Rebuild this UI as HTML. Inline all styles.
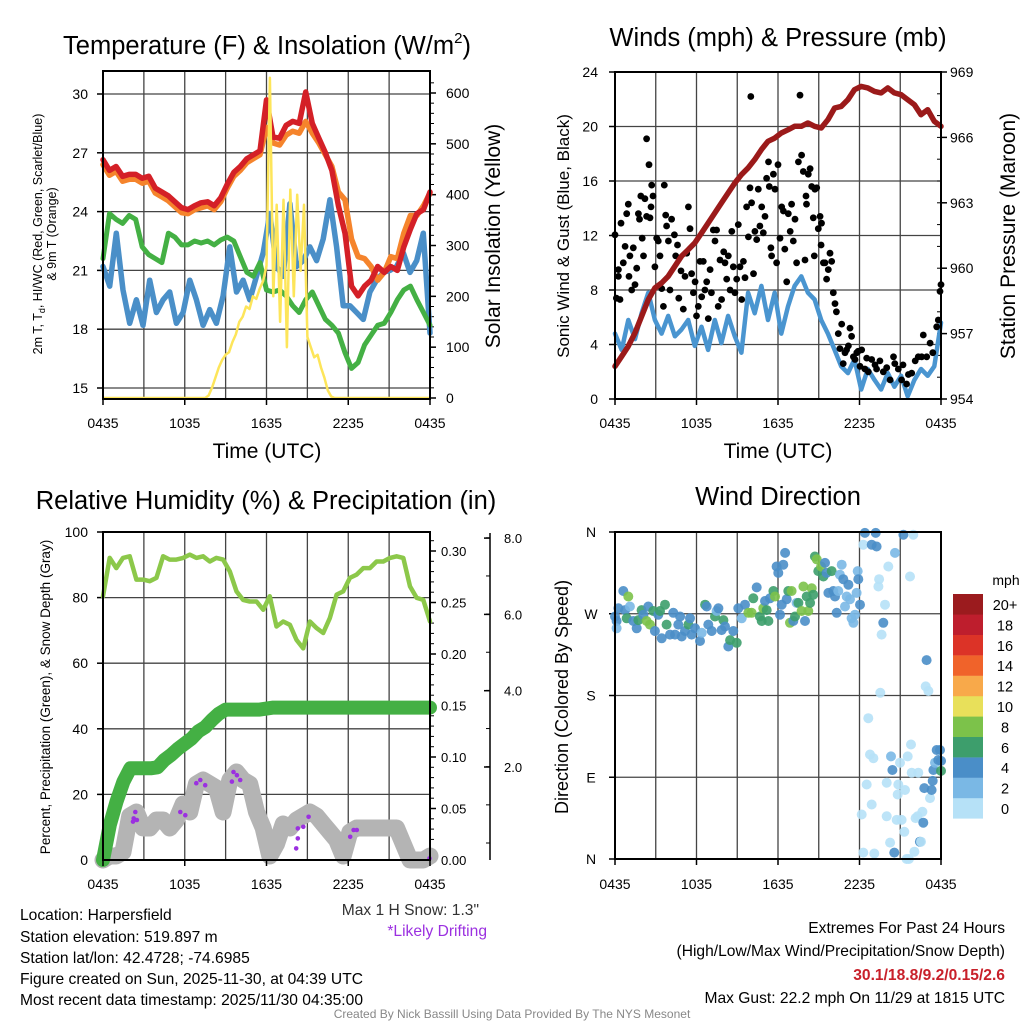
<!DOCTYPE html>
<html><head><meta charset="utf-8"><style>
html,body{margin:0;padding:0;background:#fff;}
svg{display:block;font-family:"Liberation Sans",Arial,sans-serif;}
</style></head><body>
<svg id="c" width="1024" height="1024" viewBox="0 0 1024 1024">
<rect width="1024" height="1024" fill="#fff"/>
<g id="p1"></g>
<g id="p2"></g>
<g id="p3"></g>
<g id="p4"></g>
<g font-size="25.5" text-anchor="middle" fill="#000">
<text x="267" y="54">Temperature (F) &amp; Insolation (W/m<tspan font-size="15" dy="-11">2</tspan><tspan dy="11">)</tspan></text>
<text x="778" y="46">Winds (mph) &amp; Pressure (mb)</text>
<text x="266" y="509">Relative Humidity (%) &amp; Precipitation (in)</text>
<text x="778" y="505">Wind Direction</text>
</g>
<g font-size="21" text-anchor="middle">
<text x="267" y="458">Time (UTC)</text>
<text x="778" y="458">Time (UTC)</text>
<text transform="translate(500,236) rotate(-90)">Solar Insolation (Yellow)</text>
<text transform="translate(1015,236) rotate(-90)">Station Pressure (Maroon)</text>
</g>
<text transform="translate(569,236) rotate(-90)" font-size="17" text-anchor="middle">Sonic Wind &amp; Gust (Blue, Black)</text>
<text transform="translate(568,697) rotate(-90)" font-size="18" text-anchor="middle">Direction (Colored By Speed)</text>
<text transform="translate(50,697) rotate(-90)" font-size="13.5" text-anchor="middle">Percent, Precipitation (Green), &amp; Snow Depth (Gray)</text>
<g font-size="12.5" text-anchor="middle">
<text transform="translate(42,234) rotate(-90)">2m T, T<tspan font-size="9" dy="3">d</tspan><tspan dy="-3">, HI/WC (Red, Green, Scarlet/Blue)</tspan></text>
<text transform="translate(56,234) rotate(-90)">&amp; 9m T (Orange)</text>
</g>
<g font-size="15.6" fill="#000">
<text x="20" y="920">Location: Harpersfield</text>
<text x="20" y="942">Station elevation: 519.897 m</text>
<text x="20" y="963">Station lat/lon: 42.4728; -74.6985</text>
<text x="20" y="984">Figure created on Sun, 2025-11-30, at 04:39 UTC</text>
<text x="20" y="1005">Most recent data timestamp: 2025/11/30 04:35:00</text>
<text x="479" y="915" text-anchor="end" fill="#333">Max 1 H Snow: 1.3"</text>
<text x="487" y="936" text-anchor="end" fill="#9b30e0">*Likely Drifting</text>
<text x="1005" y="933" text-anchor="end">Extremes For Past 24 Hours</text>
<text x="1005" y="956" text-anchor="end">(High/Low/Max Wind/Precipitation/Snow Depth)</text>
<text x="1005" y="980" text-anchor="end" fill="#c8202a" font-weight="bold">30.1/18.8/9.2/0.15/2.6</text>
<text x="1005" y="1003" text-anchor="end">Max Gust: 22.2 mph On 11/29 at 1815 UTC</text>
</g>
<text x="512" y="1018" font-size="12" fill="#888" text-anchor="middle">Created By Nick Bassill Using Data Provided By The NYS Mesonet</text>
</svg>
<script>
const tempRed=[26.65,26.1,26.3,25.8,25.9,25.9,25.7,25.8,25.2,25.0,24.8,24.5,24.2,24.1,24.3,24.45,24.5,24.3,24.7,25.4,26.0,26.3,26.7,26.9,27.1,29.7,27.8,27.75,28.4,28.6,28.5,30.1,28.5,27.75,27.0,26.1,24.3,22.9,20.2,19.7,20.2,20.5,21.2,20.9,21.2,21.0,22.2,23.1,23.9,24.1,25.0];
const temp9m=[26.4,25.85,26.05,25.55,25.65,25.65,25.45,25.55,24.95,24.75,24.55,24.25,23.95,23.9,24.1,24.2,24.3,24.1,24.5,25.2,25.8,26.1,26.5,26.7,26.9,28.3,27.5,27.4,27.9,28.1,28.0,28.6,28.0,27.5,26.9,26.3,25.0,24.6,22.6,21.7,21.6,21.2,20.5,20.9,21.7,21.6,22.9,23.8,23.8,24.3,24.95];
const dewPoint=[21.6,23.9,23.6,23.4,23.8,23.6,22.2,21.8,21.6,21.4,22.9,22.7,22.3,22.3,22.5,22.4,22.5,22.3,22.55,22.7,22.5,21.7,20.9,20.7,21.4,20.0,19.9,20.0,19.7,19.2,18.85,19.5,19.9,19.2,18.5,18.2,17.8,16.8,16.0,16.3,17.2,17.7,18.2,18.3,18.85,19.5,20.0,20.2,19.5,18.85,18.2];
const windChill=[21.2,20.2,22.9,20.0,18.3,19.5,18.2,20.5,18.85,19.5,19.9,18.3,18.85,20.5,19.5,18.2,19.0,18.3,19.7,22.2,19.9,20.5,19.5,20.7,21.9,23.9,21.2,20.7,24.4,21.2,21.5,22.2,21.5,22.6,24.6,22.2,19.2,19.2,18.85,18.5,19.9,20.5,20.9,21.0,21.2,21.9,20.9,21.5,22.9,17.8];
const solar=[0,0,0,0,0,0,0,0,0,0,0,0,0,0,0,0,0,0,0,0,0,0,0,0,0,0,0,0,0,0,0,5,20,40,60,75,85,90,110,125,150,160,180,175,200,195,215,230,260,630,200,380,150,390,100,410,200,400,250,380,120,100,80,85,60,40,15,3,0,0,0,0,0,0,0,0,0,0,0,0,0,0,0,0,0,0,0,0,0,0,0,0,0,0,0,0,0];
const tempTicks=[15,18,21,24,27,30];
const solarTicks=[0,100,200,300,400,500,600];
const timeLabels=["0435","1035","1635","2235","0435"];

const pressure=[955.5,955.96,956.42,957.03,957.79,958.56,959.09,959.32,959.63,960.09,960.55,960.85,961.16,961.61,962.07,962.53,962.99,963.45,963.91,964.29,964.6,964.98,965.44,965.82,965.97,966.2,966.35,966.51,966.51,966.66,966.51,966.43,966.81,967.35,967.42,967.73,968.19,968.34,968.27,968.11,968.04,968.27,968.04,967.96,967.73,967.5,967.04,967.27,966.74,966.51];
const sonicWind=[4.8,3.6,5.8,4.4,6.3,7.8,5.8,4.8,6.1,4.6,5.1,5.8,3.9,5.3,3.6,5.8,4.1,6.1,4.6,3.4,7.8,6.3,8.3,5.8,7.8,4.8,6.8,8.3,9.0,7.8,7.3,5.8,4.8,3.6,2.4,1.9,2.9,0.7,2.2,1.4,0.7,1.9,0.9,1.7,0.2,1.4,2.2,1.7,2.4,5.6];
const gustHour=[0,0.1,0.25,0.37,0.25,0.44,0.61,0.74,0.86,0.98,1.03,1.1,1.23,1.35,1.47,1.6,1.72,1.8,1.9,2.0,2.1,2.2,2.33,2.33,2.5,2.58,2.65,2.7,2.8,2.94,3.07,3.19,3.31,3.44,3.56,3.63,3.73,3.8,3.93,4.05,4.17,4.37,4.47,4.6,4.7,4.86,5.03,5.15,5.28,5.4,5.52,5.64,5.77,5.9,6.0,6.13,6.26,6.38,6.5,6.62,6.75,6.87,7.0,7.1,7.24,7.36,7.48,7.6,7.73,7.85,8.0,8.1,8.22,8.34,8.47,8.6,8.71,8.83,8.96,9.08,9.2,9.33,9.45,9.57,9.69,9.82,9.94,10.0,10.06,10.2,10.3,10.43,10.55,10.67,10.8,10.92,11.04,11.16,11.3,11.36,11.48,11.53,11.66,11.78,11.9,12.0,12.15,12.27,12.4,12.5,12.64,12.76,12.9,13.0,13.13,13.25,13.37,13.5,13.62,13.74,13.86,13.99,14.06,14.1,14.23,14.36,14.48,14.6,14.67,14.72,14.85,14.97,15.1,15.17,15.2,15.34,15.46,15.58,15.7,15.83,15.95,16.07,16.2,16.3,16.44,16.56,16.69,16.8,16.93,17.05,17.18,17.3,17.42,17.55,17.67,17.8,17.9,18.04,18.16,18.4,18.53,18.65,18.9,19.14,19.26,19.5,19.75,20.0,20.25,20.5,20.6,20.86,21.1,21.2,21.47,21.6,21.84,22.1,22.33,22.58,22.7,22.95,23.2,23.4,23.68,23.8,23.93,24.0];
const gustVal=[12.05,7.4,9.0,7.3,9.5,12.9,10,11.2,13.6,14.3,9.0,10.5,8.0,11.1,8.4,9.6,13.6,13.2,14.9,11.8,10.5,14.7,13.4,19.1,17.2,13.3,14.1,15.7,14.9,9.7,11.8,11.6,10.5,8.1,6.8,15.7,13.5,12.7,11.6,8.0,13.2,12.05,10.5,11.3,7.4,9.4,6.6,9.0,10.7,14.1,12.5,9.2,7.8,8.6,6.1,6.8,10.1,7.5,10.1,8.0,8.6,5.9,9.5,7.8,12.4,11.6,12.4,6.8,10.2,7.3,10.8,10.0,8.8,10.5,8.0,12.3,9.7,7.8,8.8,12.8,9.7,7.3,10.1,8.9,14.1,11.9,15.5,22.2,14.4,9.2,12.3,11.7,15.4,12.7,14.1,12.2,13.4,16.2,17.4,15.6,11.1,10.5,16.5,15.4,10.0,17.2,11.8,14.1,13.8,11.0,8.6,13.6,12.3,14.3,11.6,13.2,10.0,17.4,22.3,17.9,16.7,10.2,14.9,14.3,16.5,16.9,15.6,13.3,10.5,15.4,15.5,12.5,13.4,11.3,12.9,10.0,10.0,8.8,9.5,10.7,10.1,7.8,7.0,6.4,4.8,3.7,5.5,2.6,3.4,3.6,3.9,5.2,4.6,3.1,2.9,3.4,3.5,2.4,3.6,2.2,3.0,2.0,2.9,2.5,2.2,2.8,2.0,2.3,1.4,3.1,2.6,2.2,1.4,2.5,1.1,1.8,1.9,2.8,3.1,3.1,4.7,3.1,4.1,3.4,5.3,5.8,7.9,8.4];
const windTicks=[0,4,8,12,16,20,24];
const pressureTicks=[954,957,960,963,966,969];

const relHum=[80.4,92.1,89,92.1,92.6,85.5,85.5,85,86,92.6,91.6,91.6,92.1,93.1,92.1,92.6,91,92.1,91.6,88,81.9,79.3,78.8,78.8,76.3,80.4,71.2,72.7,71.7,67.1,64.5,72.7,70.7,69.2,73.8,80.9,81.9,86,87,89,89,91,91,92.1,92.6,92.1,83.4,79.9,79.3,72.7];
const precip=[0,0.034,0.057,0.076,0.089,0.089,0.089,0.089,0.09,0.097,0.102,0.108,0.113,0.118,0.125,0.129,0.136,0.142,0.146,0.146,0.146,0.146,0.146,0.146,0.147,0.148,0.148,0.148,0.148,0.148,0.148,0.148,0.148,0.148,0.148,0.148,0.148,0.148,0.148,0.148,0.148,0.148,0.148,0.148,0.148,0.148,0.148,0.148,0.148];
const snowDepth=[0,0.1,0.1,0.2,1.1,1.2,0.8,0.8,1.0,1.0,0.8,1.0,1.4,1.2,1.9,2.0,1.9,1.8,1.2,2.0,2.2,2.0,1.9,1.2,0.8,0.1,0.4,0.9,0.8,1.0,1.1,1.2,1.1,0.9,0.7,0.5,0.1,0.7,0.8,0.8,0.8,0.8,0.8,0.8,0.8,0.4,0,0,0,0.1];
const driftHour=[2.25,2.2,2.49,2.37,5.67,6.04,6.85,7.5,7.14,9.58,9.46,10.07,9.83,14.3,14.3,14.18,14.7,15.09,18.14,18.63,18.39,23.96];
const driftVal=[1.04,0.96,1.0,1.2,1.2,1.12,1.92,1.87,2.0,2.2,1.96,2.0,2.12,0.79,0.54,0.29,0.83,1.08,0.58,0.75,0.75,0.04];
const rhTicks=[0,20,40,60,80,100];
const precipTicks=[0,0.05,0.10,0.15,0.20,0.25,0.30];
const snowTickLabels=["2.0","4.0","6.0","8.0"];

const dirHour=[0,0.12,0.12,0.25,0.61,0.98,0.74,0.86,1.1,1.35,1.6,1.72,1.96,2.09,2.33,2.45,2.58,2.82,2.94,3.19,3.31,3.44,3.68,3.8,4.05,4.29,4.42,4.66,4.79,4.91,5.15,5.4,5.52,5.64,5.89,6.26,6.38,6.63,6.75,6.87,7.12,7.36,7.48,7.61,7.85,7.98,8.1,8.34,8.47,8.71,8.96,9.08,9.33,9.57,9.82,10.06,10.18,10.43,10.67,10.8,10.92,11.04,11.17,11.29,11.41,11.66,11.78,11.9,12.02,12.15,12.27,12.39,12.52,12.64,12.76,12.88,13.0,13.13,13.25,13.37,13.5,13.74,13.87,13.99,14.11,14.23,14.36,14.48,14.6,14.72,14.85,14.97,15.17,15.34,15.46,15.58,15.71,15.95,16.07,16.2,16.32,16.44,16.56,16.69,16.81,16.93,17.06,17.18,17.3,17.42,17.55,17.67,17.79,17.87,17.91,18.04,18.16,18.28,18.4,18.28,18.53,18.65,18.77,18.9,18.9,19.02,19.09,19.19,19.26,19.39,19.44,19.53,19.63,19.75,19.88,20.0,20.0,20.12,20.25,20.32,20.42,20.56,20.61,20.74,20.86,20.81,20.98,21.1,21.23,21.3,21.35,21.47,21.55,21.64,21.72,21.79,21.84,21.96,22.04,22.13,22.28,22.33,22.45,22.53,22.63,22.7,22.77,22.94,22.87,23.07,23.19,23.31,23.39,23.44,23.56,23.68,23.8,23.93,24.0,24.0];
const dirDeg=[267,262,254,276,295,289,274,265,278,262,254,263,274,269,262,278,258,273,251,269,273,243,280,258,247,271,247,258,267,245,251,258,265,247,254,240,249,280,278,258,251,267,273,276,252,263,256,234,241,251,238,276,265,280,271,271,287,299,267,262,276,284,274,262,287,295,289,322,315,269,280,324,337,286,295,260,295,262,267,282,282,273,300,262,289,273,282,298,291,333,330,317,322,311,326,315,293,317,295,289,271,295,313,324,308,278,289,302,286,265,260,269,293,317,308,280,49,7,359,346,82,155,115,346,60,111,6,359,344,300,308,183,247,260,280,47,84,322,18,113,98,7,337,43,82,71,106,43,357,30,76,0,113,0,311,126,95,357,8,45,47,95,19,19,52,40,78,219,190,185,67,76,86,98,106,120,109,120,108,97];
const dirSpeed=[4,4,2,4,4,8,4,6,2,4,4,6,6,4,8,4,8,6,4,4,6,4,6,6,4,4,4,4,4,4,4,6,4,4,4,4,2,6,4,4,4,6,2,4,4,6,4,4,6,4,6,4,2,4,8,8,6,4,6,6,8,4,6,6,4,6,8,4,4,4,4,4,4,4,6,8,8,4,6,2,6,8,8,4,6,8,6,8,6,6,8,6,8,6,4,4,4,6,4,4,4,2,2,2,4,2,2,4,2,2,2,2,2,2,4,4,0,0,4,0,0,0,0,4,0,0,0,4,4,0,0,0,0,4,0,0,0,0,0,2,4,4,2,0,0,0,0,0,4,0,0,0,0,0,0,0,0,0,0,0,0,0,4,0,0,4,4,4,0,0,0,4,4,4,2,4,4,4,4,6,4];
const speedLevels=["0","2","4","6","8","10","12","14","16","18","20+"];
const speedColors=["#b6e1f7","#7ab8e5","#4a8ec8","#3d9e6c","#7cc24a","#e8e05a","#f8a94a","#f0632a","#dc3327","#be1e2d","#9b1b1e"];
const dirTicks=[0,90,180,270,360];
const dirLabels=["N","E","S","W","N"];

const NS="http://www.w3.org/2000/svg";
function lin(d0,d1,r0,r1){return v=>r0+(v-d0)*(r1-r0)/(d1-d0);}
function mk(parent,tag,attrs){const e=document.createElementNS(NS,tag);for(const k in attrs)e.setAttribute(k,attrs[k]);parent.appendChild(e);return e;}
function line(parent,x1,y1,x2,y2,stroke,w,name){
  const e=mk(parent,'line',{x1:x1,y1:y1,x2:x2,y2:y2,stroke:stroke,'stroke-width':w});
  
  
  return e;}
function txt(parent,x,y,s,size,anchor,name,fill){
  const e=mk(parent,'text',{x:x,y:y,'font-size':size,'text-anchor':anchor,fill:fill||'#000'});
  e.textContent=s;
  
  
  return e;}
function series(parent,vals,X,Y,color,w,name){
  const n=vals.length;let d='';
  vals.forEach((v,i)=>{const h=i*24/(n-1);d+=(i?'L':'M')+X(h).toFixed(1)+','+Y(v).toFixed(1);});
  const e=mk(parent,'path',{d:d,fill:'none',stroke:color,'stroke-width':w,'stroke-linejoin':'round','stroke-linecap':'round'});
  
  
  return e;}
function dot(parent,x,y,r,color,name,op){
  const e=mk(parent,'circle',{cx:x.toFixed(1),cy:y.toFixed(1),r:r,fill:color,'fill-opacity':op||1});
  
  
  return e;}
function frame(parent,x0,y0,x1,y1,name){
  const e=mk(parent,'rect',{x:x0,y:y0,width:x1-x0,height:y1-y0,fill:'none',stroke:'#000','stroke-width':2});
  
  }
function vgrid(parent,X,y0,y1){for(let h=3;h<24;h+=3)line(parent,X(h),y0,X(h),y1,'#444',1.3,'vertical-gridline');}
function xlabels(parent,X,y0,ly){timeLabels.forEach((s,i)=>{line(parent,X(i*6),y0,X(i*6),y0+6,'#000',1.5,'x-tick');txt(parent,X(i*6),ly,s,14,'middle','x-tick-label');});}

// Panel 1
const p1=document.getElementById('p1');
const X1=lin(0,24,103,430),T1=lin(15,30,388,94),S1=lin(0,600,398,93);
vgrid(p1,X1,71,399);
tempTicks.forEach(t=>{line(p1,103,T1(t),430,T1(t),'#444',1.3,'horizontal-gridline');line(p1,97,T1(t),103,T1(t),'#000',1.5,'y-tick');txt(p1,88,T1(t)+5,String(t),14,'end','temperature-tick-label');});
solarTicks.forEach(t=>{line(p1,430,S1(t),436,S1(t),'#000',1.5,'solar-tick');txt(p1,446,S1(t)+5,String(t),14,'start','solar-tick-label');});
for(let t=20;t<640;t+=20)line(p1,430,S1(t),434,S1(t),'#000',1,'solar-minor-tick');
series(p1,windChill,X1,T1,'#4a8fc8',5.5,'wind-chill-line');
series(p1,dewPoint,X1,T1,'#44b044',5,'dewpoint-line');
series(p1,temp9m,X1,T1,'#f5842c',5.5,'temp-9m-line');
series(p1,tempRed,X1,T1,'#d42027',5.5,'temp-2m-line');
(function(){let d='';solar.forEach((v,i)=>{d+=(i?'L':'M')+X1(i*0.25).toFixed(1)+','+S1(v).toFixed(1);});
const e=mk(p1,'path',{d:d,fill:'none',stroke:'#fde55a','stroke-width':2.5,'stroke-linejoin':'round'});

})();
frame(p1,103,71,430,399,'temperature-plot-frame');
xlabels(p1,X1,399,428);

// Panel 2
const p2=document.getElementById('p2');
const X2=lin(0,24,615,941),W2=lin(0,24,399,72),P2=lin(954,969,399,72);
vgrid(p2,X2,72,399);
windTicks.forEach(t=>{if(t>0&&t<24)line(p2,615,W2(t),941,W2(t),'#444',1.3,'horizontal-gridline');line(p2,609,W2(t),615,W2(t),'#000',1.5,'y-tick');txt(p2,598,W2(t)+5,String(t),14,'end','wind-tick-label');});
pressureTicks.forEach(t=>{line(p2,941,P2(t),947,P2(t),'#000',1.5,'pressure-tick');txt(p2,950,P2(t)+5,String(t),14,'start','pressure-tick-label');});
for(let t=954;t<=969;t++)line(p2,941,P2(t),937,P2(t),'#000',1,'pressure-minor-tick');
series(p2,sonicWind,X2,W2,'#4a95d0',4.5,'sonic-wind-line');
gustHour.forEach((h,i)=>{dot(p2,X2(h),W2(gustVal[i]),3.4,'#000','gust-dot');});
series(p2,pressure,X2,P2,'#9b1a1a',5.5,'pressure-line');
frame(p2,615,72,941,399,'winds-plot-frame');
xlabels(p2,X2,399,428);

// Panel 3
const p3=document.getElementById('p3');
const X3=lin(0,24,103,430),R3=lin(0,100,860,532),PR3=lin(0,0.3,860,551),SN3=lin(0,1,860,820);
vgrid(p3,X3,532,860);
rhTicks.forEach(t=>{if(t>0&&t<100)line(p3,103,R3(t),430,R3(t),'#444',1.3,'horizontal-gridline');line(p3,97,R3(t),103,R3(t),'#000',1.5,'y-tick');txt(p3,88,R3(t)+5,String(t),14,'end','humidity-tick-label');});
precipTicks.forEach(t=>{line(p3,430,PR3(t),436,PR3(t),'#000',1.5,'precip-tick');txt(p3,441,PR3(t)+5,t.toFixed(2),13,'start','precip-tick-label');});
for(let t=0.01;t<0.32;t+=0.01)line(p3,430,PR3(t),434,PR3(t),'#000',1,'precip-minor-tick');
line(p3,490,533,490,860,'#000',1.5,'snow-axis-line');
snowTickLabels.forEach((s,i)=>{const y=767-i*76.3;line(p3,484,y,490,y,'#000',1.5,'snow-tick');txt(p3,504,y+5,s,13,'start','snow-tick-label');});
for(let k=0;k<9;k++){const y=843-k*38.15;line(p3,486,y,490,y,'#000',1,'snow-minor-tick');}
series(p3,relHum,X3,R3,'#8cc84a',4.5,'humidity-line');
series(p3,snowDepth,X3,SN3,'#b4b4b4',17,'snow-depth-line');
series(p3,precip,X3,PR3,'#44b044',14,'precipitation-line');
driftHour.forEach((h,i)=>{dot(p3,X3(h),SN3(driftVal[i]),2.3,'#9b30e0','drifting-dot');});
frame(p3,103,532,430,860,'humidity-plot-frame');
xlabels(p3,X3,860,889);

// Panel 4
const p4=document.getElementById('p4');
const X4=lin(0,24,615,941),D4=lin(0,360,859,532);
vgrid(p4,X4,532,859);
dirTicks.forEach((t,i)=>{if(t>0&&t<360)line(p4,615,D4(t),941,D4(t),'#444',1.3,'horizontal-gridline');line(p4,609,D4(t),615,D4(t),'#000',1.5,'y-tick');txt(p4,591,D4(t)+5,dirLabels[i],14,'middle','direction-tick-label');});
dirHour.forEach((h,i)=>{const c=speedColors[Math.min(10,Math.floor(dirSpeed[i]/2))];dot(p4,X4(h),D4(dirDeg[i]),5,c,'direction-dot',0.9);});
frame(p4,615,532,941,859,'direction-plot-frame');
xlabels(p4,X4,859,889);
// colorbar
txt(p4,1006,585,'mph',14,'middle','colorbar-title');
speedLevels.forEach((s,i)=>{const y=798-i*20.4;
  const r=mk(p4,'rect',{x:953,y:y.toFixed(1),width:30,height:20.6,fill:speedColors[i]});
  
  
  txt(p4,1005,y+16,s,14.5,'middle','colorbar-label');});
</script>
</body></html>
